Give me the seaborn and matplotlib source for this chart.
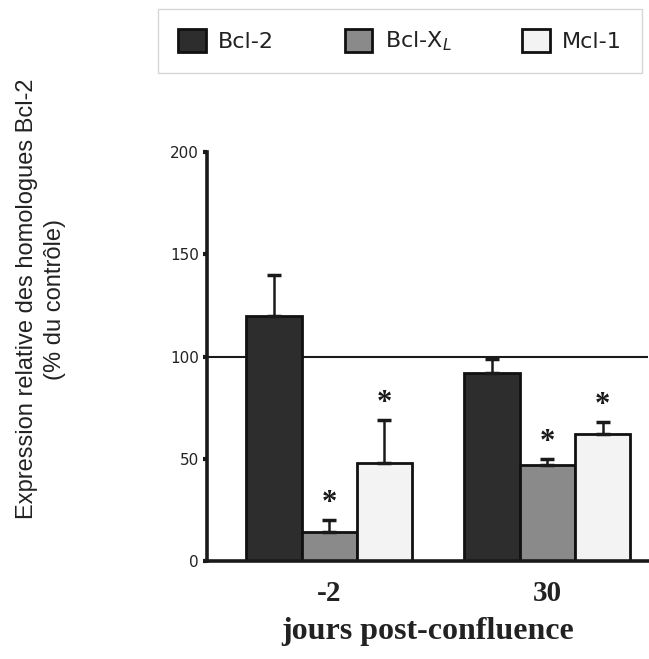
import pandas as pd
import numpy as np
import matplotlib
matplotlib.use("Agg")
import matplotlib.pyplot as plt
import seaborn as sns

# Data
jours = ['-2', '30']
proteines = ['Bcl-2', 'Bcl-X$_L$', 'Mcl-1']
bcl2 = [120, 92]
bclxl = [14, 47]
mcl1 = [48, 62]
err_bcl2 = [20, 7]
err_bclxl = [6, 3]
err_mcl1 = [21, 6]
signif = [[False, False], [True, True], [True, True]]

valeurs = [bcl2, bclxl, mcl1]
erreurs = [err_bcl2, err_bclxl, err_mcl1]

df = pd.DataFrame({
    'jours': np.tile(jours, len(proteines)),
    'proteine': np.repeat(proteines, len(jours)),
    'expr': np.concatenate(valeurs),
})

couleurs = ['#2d2d2d', '#8a8a8a', '#f3f3f3']

sns.set_style("ticks")
fig = plt.figure(figsize=(6.49, 6.59), dpi=100)
ax = fig.add_axes([0.319, 0.1487, 0.68, 0.6206])

sns.barplot(data=df, x='jours', y='expr', hue='proteine', hue_order=proteines,
            palette=couleurs, width=0.76, edgecolor='#111111', linewidth=2,
            errorbar=None, ax=ax, zorder=2)

# upward error bars + stars
bar_conts = list(ax.containers)
for i, cont in enumerate(bar_conts):
    xs = [b.get_x() + b.get_width() / 2 for b in cont]
    ax.errorbar(xs, valeurs[i], yerr=[np.zeros(len(xs)), erreurs[i]], fmt='none',
                ecolor='#1a1a1a', elinewidth=1.8, capsize=5, capthick=2.5, zorder=3)
    for j, x in enumerate(xs):
        if signif[i][j]:
            ax.annotate('*', (x, valeurs[i][j] + erreurs[i][j]), xytext=(0, 12),
                        textcoords='offset points', ha='center', va='center',
                        fontsize=22, fontweight='bold', family='Liberation Serif',
                        color='#1a1a1a')

ax.axhline(100, color='#1a1a1a', lw=1.5, zorder=1)

ax.set_ylim(0, 200)
ax.set_xlim(-0.56, 1.463)
ax.set_yticks([0, 50, 100, 150, 200])
ax.tick_params(axis='y', direction='out', length=3, width=3, color='#1a1a1a', pad=3)
ax.tick_params(axis='x', length=0, pad=14)
for lab in ax.get_yticklabels():
    lab.set_family(['Liberation Sans Narrow', 'DejaVu Sans Condensed', 'DejaVu Sans'])
    lab.set_fontsize(11)
    lab.set_color('#222222')
for lab in ax.get_xticklabels():
    lab.set_family('Liberation Serif')
    lab.set_fontsize(21)
    lab.set_fontweight('bold')
    lab.set_color('#222222')

ax.set_xlabel('jours post-confluence', fontsize=23, fontweight='bold',
              family='Liberation Serif', color='#222222', labelpad=7)
ax.set_ylabel('')
fig.text(0.063, 0.546, 'Expression relative des homologues Bcl-2\n(% du contrôle)',
         rotation=90, ha='center', va='center', multialignment='center',
         fontsize=17, family='Liberation Sans', color='#222222', linespacing=1.35)

sns.despine(ax=ax)
for s in ['left', 'bottom']:
    ax.spines[s].set_linewidth(2.6)
    ax.spines[s].set_color('#1a1a1a')

sns.move_legend(ax, loc='center', bbox_to_anchor=(0.2435, 0.8862, 0.7458, 0.1032),
                bbox_transform=fig.transFigure, mode='expand', ncol=3, title=None,
                frameon=True, fancybox=False, borderaxespad=0, borderpad=0.9,
                handlelength=1.25, handleheight=1.25, handletextpad=0.55,
                prop={'family': 'DejaVu Sans', 'size': 16})
leg = ax.get_legend()
leg.get_frame().set_edgecolor('#cccccc')
leg.get_frame().set_linewidth(1)
for t in leg.get_texts():
    t.set_color('#222222')

fig.savefig('out.png', dpi=100)
